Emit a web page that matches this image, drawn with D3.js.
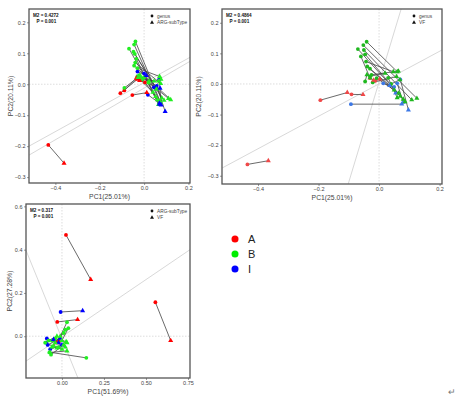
<!DOCTYPE html>
<html lang="en">
<head>
<meta charset="UTF-8">
<title>Procrustes</title>
<script src="https://d3js.org/d3.v7.min.js"></script>
<style>
  body { margin: 0; background: white; }
  svg { display: block; font-family: Arial, "Liberation Sans", sans-serif; }
</style>
</head>
<body>
<svg id="chart" width="469" height="398"></svg>
<script>
// groups and colours
const groups = ["A", "B", "I"];

// pairs: [x1, y1, x2, y2, group]  (circle -> triangle)
const p1Pairs = [
  [-0.432, -0.196, -0.361, -0.255, "A"],
  [-0.107, -0.029, -0.030, 0.016, "A"],
  [-0.089, -0.020, -0.035, 0.020, "A"],
  [-0.053, -0.035, 0.012, -0.027, "A"],
  [0.004, 0.006, -0.020, 0.012, "A"],
  [-0.089, -0.012, -0.028, 0.022, "B"],
  [-0.068, 0.115, 0.060, -0.050, "B"],
  [-0.039, 0.138, 0.075, -0.060, "B"],
  [-0.045, 0.128, 0.070, -0.055, "B"],
  [-0.048, 0.105, 0.080, -0.045, "B"],
  [-0.042, 0.098, 0.090, -0.052, "B"],
  [-0.035, 0.082, 0.065, -0.066, "B"],
  [-0.040, 0.070, 0.075, 0.002, "B"],
  [-0.030, 0.052, 0.070, 0.025, "B"],
  [-0.045, 0.060, 0.120, -0.050, "B"],
  [-0.020, 0.030, 0.110, -0.046, "B"],
  [-0.015, 0.024, 0.052, -0.040, "B"],
  [-0.025, 0.020, 0.040, -0.026, "B"],
  [0.000, 0.022, 0.022, 0.010, "B"],
  [-0.030, 0.026, 0.045, 0.010, "B"],
  [-0.010, 0.015, 0.065, 0.010, "B"],
  [0.050, -0.010, 0.076, 0.016, "B"],
  [0.020, 0.005, 0.056, -0.016, "B"],
  [0.000, 0.035, 0.070, -0.065, "I"],
  [0.057, -0.005, 0.095, -0.088, "I"],
  [0.068, 0.016, 0.077, -0.067, "I"],
  [0.044, -0.010, 0.072, -0.013, "I"],
  [0.017, -0.034, 0.069, -0.061, "I"],
  [-0.030, 0.041, 0.010, 0.028, "I"]
];

const p2Pairs = [
  [-0.435, -0.263, -0.366, -0.251, "A"],
  [-0.194, -0.053, -0.105, -0.028, "A"],
  [-0.091, -0.034, -0.053, -0.035, "A"],
  [-0.030, 0.019, -0.018, 0.012, "A"],
  [-0.013, 0.010, 0.002, 0.016, "A"],
  [-0.093, -0.066, 0.075, -0.066, "I"],
  [0.070, 0.015, 0.097, -0.085, "I"],
  [0.060, 0.002, 0.080, -0.060, "I"],
  [0.050, -0.010, 0.055, -0.030, "I"],
  [0.014, 0.002, 0.035, -0.005, "I"],
  [-0.041, 0.138, 0.060, 0.040, "B"],
  [-0.070, 0.114, 0.080, -0.050, "B"],
  [-0.052, 0.127, 0.125, -0.047, "B"],
  [-0.050, 0.111, 0.108, -0.052, "B"],
  [-0.046, 0.097, 0.086, -0.058, "B"],
  [-0.043, 0.073, 0.047, 0.040, "B"],
  [-0.039, 0.057, 0.070, -0.040, "B"],
  [-0.030, 0.050, 0.065, -0.030, "B"],
  [-0.025, 0.030, 0.064, 0.042, "B"],
  [-0.046, 0.008, -0.040, 0.030, "B"],
  [-0.021, 0.005, 0.058, 0.024, "B"],
  [-0.008, 0.019, 0.050, -0.020, "B"],
  [0.040, 0.000, 0.069, 0.014, "B"],
  [-0.030, 0.025, 0.020, 0.035, "B"],
  [-0.060, 0.090, -0.030, 0.020, "B"],
  [0.030, 0.020, 0.060, -0.045, "B"]
];

const p3Pairs = [
  [0.024, 0.468, 0.171, 0.262, "A"],
  [0.556, 0.157, 0.647, -0.020, "A"],
  [-0.028, 0.066, 0.093, 0.077, "A"],
  [-0.018, -0.025, -0.035, -0.030, "A"],
  [-0.008, 0.112, 0.123, 0.118, "I"],
  [-0.090, -0.010, -0.020, -0.030, "I"],
  [-0.085, -0.040, -0.010, -0.010, "I"],
  [-0.070, -0.060, 0.000, -0.040, "I"],
  [-0.095, -0.030, -0.050, -0.015, "I"],
  [0.030, 0.065, -0.010, 0.000, "B"],
  [0.145, -0.100, -0.071, -0.074, "B"],
  [0.038, 0.037, 0.000, -0.020, "B"],
  [0.020, 0.030, -0.040, -0.030, "B"],
  [0.010, 0.015, -0.060, -0.050, "B"],
  [-0.075, -0.075, 0.030, -0.068, "B"],
  [-0.060, -0.020, 0.020, -0.050, "B"],
  [-0.100, -0.030, -0.030, -0.055, "B"],
  [-0.040, -0.010, 0.025, -0.025, "B"],
  [-0.050, -0.045, 0.000, -0.060, "B"],
  [-0.080, -0.020, -0.030, 0.000, "B"],
  [-0.065, -0.085, 0.010, -0.040, "B"],
  [-0.020, -0.050, 0.030, -0.030, "B"]
];

// rotation axes: [x1, y1, x2, y2]
const p1Axes = [[-0.519, -0.200, 0.207, 0.087], [-0.519, -0.229, 0.207, 0.074]];
const p2Axes = [[-0.519, -0.275, 0.208, 0.111], [-0.102, -0.327, 0.073, 0.245]];
const p3Axes = [[-0.214, -0.115, 0.762, 0.400], [-0.214, 0.397, 0.095, -0.193]];

const p1XTicks = [-0.4, -0.2, 0.0, 0.2];
const p1YTicks = [-0.3, -0.2, -0.1, 0.0, 0.1, 0.2];
const p2XTicks = [-0.4, -0.2, 0.0, 0.2];
const p2YTicks = [-0.3, -0.2, -0.1, 0.0, 0.1, 0.2];
const p3XTicks = [0.00, 0.25, 0.50, 0.75];
const p3YTicks = [0.0, 0.2, 0.4, 0.6];

const svg = d3.select("#chart");

function drawPanel(o) {
  const x = d3.scaleLinear().domain(o.xDomain).range([o.left, o.right]);
  const y = d3.scaleLinear().domain(o.yDomain).range([o.bottom, o.top]);
  const g = svg.append("g");

  g.append("clipPath").attr("id", o.id + "clip")
    .append("rect").attr("x", o.left).attr("y", o.top)
    .attr("width", o.right - o.left).attr("height", o.bottom - o.top);

  const inner = g.append("g").attr("clip-path", `url(#${o.id}clip)`);

  // zero lines
  inner.append("line").attr("x1", x(0)).attr("x2", x(0)).attr("y1", o.top).attr("y2", o.bottom)
    .attr("stroke", "#cfcfcf").attr("stroke-width", 0.7).attr("stroke-dasharray", "1.5,1.5");
  inner.append("line").attr("x1", o.left).attr("x2", o.right).attr("y1", y(0)).attr("y2", y(0))
    .attr("stroke", "#cfcfcf").attr("stroke-width", 0.7).attr("stroke-dasharray", "1.5,1.5");

  // rotation axes
  inner.selectAll(".ax").data(o.axes).join("line")
    .attr("x1", d => x(d[0])).attr("y1", d => y(d[1]))
    .attr("x2", d => x(d[2])).attr("y2", d => y(d[3]))
    .attr("stroke", "#d4d4d4").attr("stroke-width", 0.9);

  // segments
  inner.selectAll(".seg").data(o.pairs).join("line")
    .attr("x1", d => x(d[0])).attr("y1", d => y(d[1]))
    .attr("x2", d => x(d[2])).attr("y2", d => y(d[3]))
    .attr("stroke", "#444").attr("stroke-width", 0.8);

  // points
  inner.selectAll(".c").data(o.pairs).join("circle")
    .attr("cx", d => x(d[0])).attr("cy", d => y(d[1])).attr("r", 1.9)
    .attr("fill", d => o.colors[d[4]]);
  const tri = d3.symbol().type(d3.symbolTriangle).size(11);
  inner.selectAll(".t").data(o.pairs).join("path")
    .attr("d", tri)
    .attr("transform", d => `translate(${x(d[2])},${y(d[3])})`)
    .attr("fill", d => o.colors[d[4]]);

  // frame
  g.append("rect").attr("x", o.left).attr("y", o.top)
    .attr("width", o.right - o.left).attr("height", o.bottom - o.top)
    .attr("fill", "none").attr("stroke", "#555").attr("stroke-width", 1.3);

  // axes
  const xa = g.append("g").attr("transform", `translate(0,${o.bottom})`)
    .call(d3.axisBottom(x).tickValues(o.xTicks).tickSize(2).tickPadding(1.5).tickFormat(o.xFmt));
  const ya = g.append("g").attr("transform", `translate(${o.left},0)`)
    .call(d3.axisLeft(y).tickValues(o.yTicks).tickSize(2).tickPadding(1.5).tickFormat(d3.format(".1f")));
  [xa, ya].forEach(a => {
    a.select(".domain").remove();
    a.selectAll("line").attr("stroke", "#555").attr("stroke-width", 0.6);
    a.selectAll("text").attr("font-size", 5.5).attr("fill", "#444").attr("font-family", "Arial");
  });

  g.append("text").attr("x", (o.left + o.right) / 2).attr("y", o.bottom + 15.5)
    .attr("text-anchor", "middle").attr("font-size", 6.8).attr("fill", "#444").text(o.xLabel);
  g.append("text").attr("transform", `translate(${o.yLabelX},${(o.top + o.bottom) / 2}) rotate(-90)`)
    .attr("text-anchor", "middle").attr("font-size", 6.8).attr("fill", "#444").text(o.yLabel);

  // statistics
  g.append("text").attr("x", o.left + 4).attr("y", o.top + 8)
    .attr("font-size", 4.6).attr("font-weight", "bold").attr("fill", "#111").text(o.m2);
  g.append("text").attr("x", o.left + 7.5).attr("y", o.top + 13.5)
    .attr("font-size", 4.6).attr("font-weight", "bold").attr("fill", "#111").text(o.p);

  // shape legend
  g.append("circle").attr("cx", o.legX).attr("cy", o.top + 7).attr("r", 1.4).attr("fill", "#111");
  g.append("path").attr("d", d3.symbol().type(d3.symbolTriangle).size(7))
    .attr("transform", `translate(${o.legX},${o.top + 13.5})`).attr("fill", "#111");
  g.append("text").attr("x", o.legX + 5).attr("y", o.top + 8.6)
    .attr("font-size", 4.8).attr("fill", "#444").text(o.leg[0]);
  g.append("text").attr("x", o.legX + 5).attr("y", o.top + 15)
    .attr("font-size", 4.8).attr("fill", "#444").text(o.leg[1]);
}

const brightColors = { A: "#ff0000", B: "#22ee22", I: "#0000ff" };
const softColors = { A: "#f04848", B: "#1fb81f", I: "#3c78e6" };

drawPanel({
  id: "p1", left: 29, right: 190, top: 9, bottom: 183,
  xDomain: [-0.519, 0.207], yDomain: [-0.319, 0.243],
  pairs: p1Pairs, axes: p1Axes, colors: brightColors,
  xTicks: p1XTicks, yTicks: p1YTicks, xFmt: d3.format(".1f"),
  xLabel: "PC1(25.01%)", yLabel: "PC2(20.11%)", yLabelX: 13,
  m2: "M2 = 0.4272", p: "P = 0.001",
  legX: 152, leg: ["genus", "ARG-subType"]
});

drawPanel({
  id: "p2", left: 222, right: 442, top: 9, bottom: 184,
  xDomain: [-0.519, 0.208], yDomain: [-0.327, 0.245],
  pairs: p2Pairs, axes: p2Axes, colors: softColors,
  xTicks: p2XTicks, yTicks: p2YTicks, xFmt: d3.format(".1f"),
  xLabel: "PC1(25.01%)", yLabel: "PC2(20.11%)", yLabelX: 201,
  m2: "M2 = 0.4864", p: "P = 0.001",
  legX: 414, leg: ["genus", "VF"]
});

drawPanel({
  id: "p3", left: 26, right: 190, top: 204, bottom: 378,
  xDomain: [-0.214, 0.762], yDomain: [-0.193, 0.611],
  pairs: p3Pairs, axes: p3Axes, colors: brightColors,
  xTicks: p3XTicks, yTicks: p3YTicks, xFmt: d3.format(".2f"),
  xLabel: "PC1(51.69%)", yLabel: "PC2(27.28%)", yLabelX: 12,
  m2: "M2 = 0.317", p: "P = 0.001",
  legX: 152, leg: ["ARG-subType", "VF"]
});

// group legend
const legendColors = { A: "#ff0000", B: "#00ee00", I: "#0000ff" };
const legend = svg.append("g");
const legY = d3.scalePoint().domain(groups).range([239, 269]);
legend.selectAll("circle").data(groups).join("circle")
  .attr("cx", 235).attr("cy", d => legY(d)).attr("r", 3.5)
  .attr("fill", d => legendColors[d]);
legend.selectAll("text").data(groups).join("text")
  .attr("x", 248).attr("y", d => legY(d) + 4)
  .attr("font-size", 11).attr("fill", "#222").text(d => d);

// paragraph mark
svg.append("text").attr("x", 448).attr("y", 395)
  .attr("font-size", 9).attr("fill", "#777").text("\u21b5");
</script>
</body>
</html>
